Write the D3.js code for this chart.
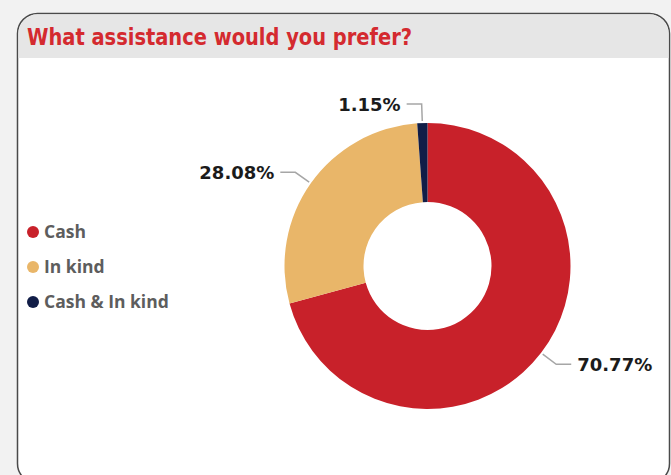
<!DOCTYPE html>
<html>
<head>
<meta charset="utf-8">
<script src="https://cdn.jsdelivr.net/npm/d3@7"></script>
<style>
  body { margin: 0; background: #f2f2f2; }
  svg { display: block; }
</style>
</head>
<body>
<div id="chart"></div>
<script>
// data
var categories = ["Cash", "In kind", "Cash & In kind"];
var shares = [70.77, 28.08, 1.15];
var colors = ["#c8212a", "#e9b669", "#111d47"];
var title = "What assistance would you prefer?";

var W = 671, H = 475;
var svg = d3.select("#chart").append("svg")
  .attr("width", W)
  .attr("height", H);

// card
svg.append("rect")
  .attr("x", 17.5).attr("y", 13.5)
  .attr("width", 652).attr("height", 470)
  .attr("rx", 20).attr("ry", 20)
  .attr("fill", "#fff")
  .attr("stroke", "#4a4a4a")
  .attr("stroke-width", 1.5);

// header band
svg.append("clipPath").attr("id", "cardclip")
  .append("rect")
  .attr("x", 18.5).attr("y", 14.5)
  .attr("width", 650).attr("height", 468)
  .attr("rx", 19).attr("ry", 19);
svg.append("rect")
  .attr("clip-path", "url(#cardclip)")
  .attr("x", 18).attr("y", 14)
  .attr("width", 651).attr("height", 44)
  .attr("fill", "#e6e6e6");

svg.append("text")
  .attr("x", 27).attr("y", 45)
  .attr("font-family", "DejaVu Sans Condensed, DejaVu Sans")
  .attr("font-stretch", "condensed")
  .attr("font-weight", "bold")
  .attr("font-size", 23)
  .attr("textLength", 385)
  .attr("lengthAdjust", "spacingAndGlyphs")
  .attr("fill", "#d42a2f")
  .text(title);

// legend
var legend = svg.append("g");
var ly = d3.scalePoint().domain(categories).range([232, 302]);
legend.selectAll("circle")
  .data(categories)
  .enter().append("circle")
  .attr("cx", 33)
  .attr("cy", function(d) { return ly(d); })
  .attr("r", 6)
  .attr("fill", function(d, i) { return colors[i]; });
legend.selectAll("text")
  .data(categories)
  .enter().append("text")
  .attr("x", 44)
  .attr("y", function(d) { return ly(d) + 6; })
  .attr("font-family", "Open Sans")
  .attr("font-weight", "bold")
  .attr("font-size", 17.5)
  .attr("fill", "#5d5d5d")
  .text(function(d) { return d; });

// donut
var cx = 427.5, cy = 266, R = 143, r0 = 64;
var g = svg.append("g").attr("transform", "translate(" + cx + "," + cy + ")");

var pie = d3.pie().sort(null).value(function(d) { return d; });
var arcs = pie(shares);
var arc = d3.arc().innerRadius(r0).outerRadius(R);

g.selectAll("path.slice")
  .data(arcs)
  .enter().append("path")
  .attr("class", "slice")
  .attr("d", arc)
  .attr("fill", function(d, i) { return colors[i]; });

// leader lines + labels
function pt(a, rad) { return [Math.sin(a) * rad, -Math.cos(a) * rad]; }
arcs.forEach(function(d) {
  var a = (d.startAngle + d.endAngle) / 2;
  var p0 = pt(a, R + 2), p1 = pt(a, R + 19);
  var side = Math.sin(a) >= 0 ? 1 : -1;
  var p2 = [p1[0] + side * 15, p1[1]];
  g.append("polyline")
    .attr("points", [p0, p1, p2].map(function(p) { return p.join(","); }).join(" "))
    .attr("fill", "none")
    .attr("stroke", "#a6a6a6")
    .attr("stroke-width", 1.5);
  g.append("text")
    .attr("x", p2[0] + side * 6)
    .attr("y", p2[1] + 6.5)
    .attr("text-anchor", side > 0 ? "start" : "end")
    .attr("font-family", "DejaVu Sans")
    .attr("font-weight", "bold")
    .attr("font-size", 18)
    .attr("fill", "#1b1b1b")
    .text(d.data.toFixed(2) + "%");
});
</script>
</body>
</html>
